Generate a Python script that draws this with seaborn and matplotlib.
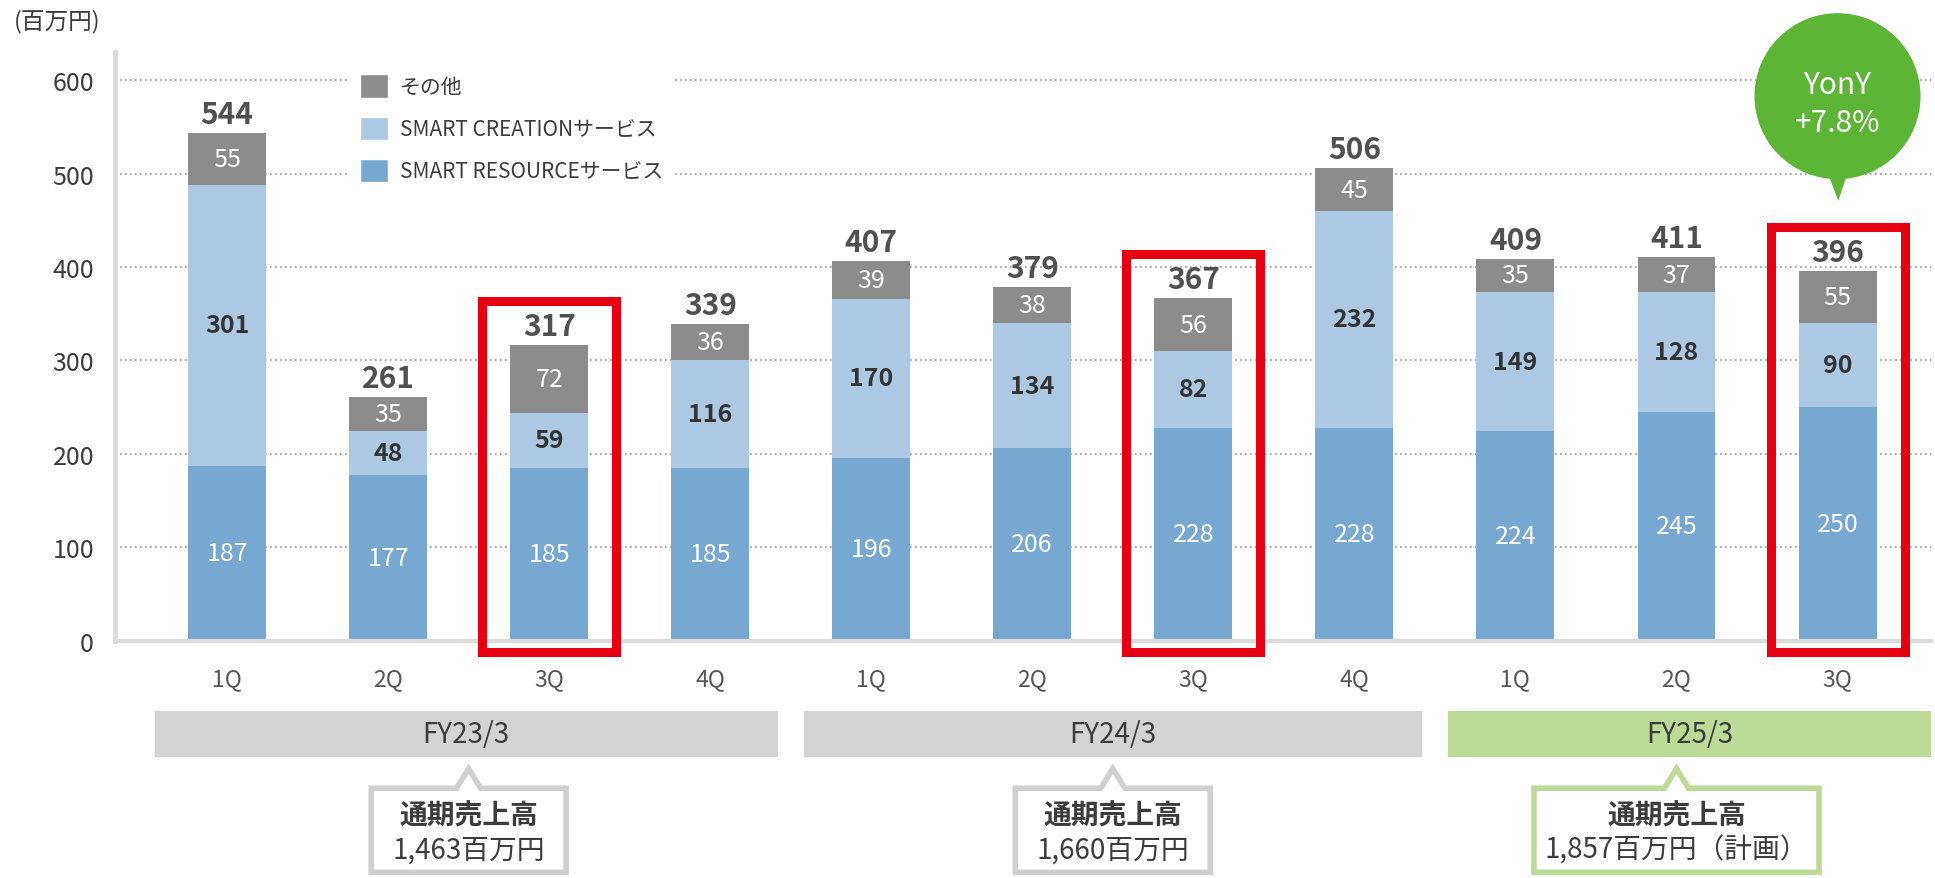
import numpy as np
import pandas as pd
import seaborn as sns
import matplotlib.pyplot as plt
from matplotlib.patches import Rectangle, Ellipse, Polygon, Patch

# data (百万円)
quarters = ['1Q', '2Q', '3Q', '4Q', '1Q', '2Q', '3Q', '4Q', '1Q', '2Q', '3Q']
fiscal_years = ['FY23/3'] * 4 + ['FY24/3'] * 4 + ['FY25/3'] * 3
resource = [187, 177, 185, 185, 196, 206, 228, 228, 224, 245, 250]
creation = [301, 48, 59, 116, 170, 134, 82, 232, 149, 128, 90]
other = [55, 35, 72, 36, 39, 38, 56, 45, 35, 37, 55]
totals = [544, 261, 317, 339, 407, 379, 367, 506, 409, 411, 396]
highlight = [2, 6, 10]
fy_names = ['FY23/3', 'FY24/3', 'FY25/3']
fy_sales = ['1,463百万円', '1,660百万円', '1,857百万円（計画）']
yony_text = '+7.8%'

c_other = '#8c8c8c'
c_creation = '#adc8e3'
c_resource = '#76a8d1'
c_text = '#3c3c3c'

df = pd.DataFrame({
    'key': [f'{fy} {q}' for fy, q in zip(fiscal_years, quarters)],
    'resource': resource,
    'creation': creation,
    'other': other,
    'total': totals,
})
df['res_cre'] = df['resource'] + df['creation']

sns.set_style('white')
plt.rcParams['font.family'] = ['Noto Sans CJK JP', 'DejaVu Sans']

fig = plt.figure(figsize=(19.35, 8.79), dpi=100)
ax = fig.add_axes([0.0594, 0.27, 0.9385, 0.6694])

bw = 0.484
for col, colr in [('total', c_other), ('res_cre', c_creation), ('resource', c_resource)]:
    sns.barplot(data=df, x='key', y=col, color=colr, width=bw, saturation=1, errorbar=None,
                linewidth=0, edgecolor='none', ax=ax, zorder=2)

ax.set_xlim(-0.696, 10.58)
ax.set_ylim(0, 630)
ax.set_yticks(range(0, 601, 100))
ax.set_xticks(range(len(quarters)))
ax.set_xticklabels(quarters, fontsize=16.5, color='#555555')
ax.tick_params(axis='y', length=0, pad=15, labelsize=18, labelcolor=c_text)
ax.tick_params(axis='x', length=0, pad=19)
ax.set_xlabel('')
ax.set_ylabel('')
ax.set_axisbelow(True)
ax.yaxis.grid(True, linestyle=(0, (1, 2)), color='#9a9a9a', linewidth=1.2)
for s in ['top', 'right']:
    ax.spines[s].set_visible(False)
ax.spines['left'].set_color('#dcdcdc')
ax.spines['left'].set_linewidth(3.5)
ax.spines['bottom'].set_color('#dcdcdc')
ax.spines['bottom'].set_linewidth(3)
ax.spines['bottom'].set_zorder(3)

# segment and total labels
for i in range(len(quarters)):
    ax.text(i, resource[i] / 2, str(resource[i]), ha='center', va='center', fontsize=18, color='white', zorder=5)
    ax.text(i, resource[i] + creation[i] / 2, str(creation[i]), ha='center', va='center', fontsize=18,
            color='#333333', fontweight='bold', zorder=5)
    rc = resource[i] + creation[i]
    ax.text(i, (rc + totals[i]) / 2, str(other[i]), ha='center', va='center', fontsize=18, color='white', zorder=5)
    ax.text(i, totals[i] + 4, str(totals[i]), ha='center', va='bottom', fontsize=21.5, color='#505050',
            fontweight='bold', zorder=5)

# red highlight boxes
for i in highlight:
    ax.add_patch(Rectangle((i - 0.416, -12.5), 0.832, totals[i] + 47 + 12.5, fill=False,
                           edgecolor='#e60012', linewidth=6.5, joinstyle='miter', clip_on=False, zorder=6))

# YonY bubble over the last quarter
last = len(quarters) - 1
ax.add_patch(Ellipse((last, 583), 1.031, 177.7, facecolor='#5db535', edgecolor='none', clip_on=False, zorder=7))
ax.add_patch(Polygon([(last - 0.07, 505), (last + 0.07, 505), (last + 0.005, 471)], closed=True,
                     facecolor='#5db535', edgecolor='none', clip_on=False, zorder=7))
ax.text(last, 596, 'YonY', ha='center', va='center', fontsize=21.5, color='white', zorder=8)
ax.text(last, 555, yony_text, ha='center', va='center', fontsize=21.5, color='white', zorder=8)

# legend
handles = [Patch(facecolor=c_other), Patch(facecolor=c_creation), Patch(facecolor=c_resource)]
labels = ['その他', 'SMART CREATIONサービス', 'SMART RESOURCEサービス']
leg = ax.legend(handles, labels, loc='upper left', bbox_to_anchor=(0.1294, 0.98), borderaxespad=0,
                fontsize=15, handlelength=1.33, handleheight=1.33, labelspacing=0.9, handletextpad=0.55,
                frameon=True, facecolor='white', edgecolor='none', framealpha=1, borderpad=0.5)
for t in leg.get_texts():
    t.set_color(c_text)

# fiscal-year bands and annual callouts
groups = {}
for i, fy in enumerate(fiscal_years):
    groups.setdefault(fy, []).append(i)
band_colors = ['#d3d3d3', '#d3d3d3', '#bcdb97']
edge_colors = ['#d0d0d0', '#d0d0d0', '#bcdb97']
half_widths = [0.605, 0.605, 0.885]
for k, fy in enumerate(fy_names):
    idx = groups[fy]
    left = idx[0] - 0.45 if k == 0 else idx[0] - 0.42
    right = 10.58 if k == len(fy_names) - 1 else idx[-1] + 0.42
    ax.add_patch(Rectangle((left, -124.5), right - left, 49.2, facecolor=band_colors[k], edgecolor='none',
                           clip_on=False, zorder=3))
    ax.text((left + right) / 2, -100, fy, ha='center', va='center', fontsize=20, color=c_text, zorder=4)

    c = float(np.mean(idx))
    hw = half_widths[k]
    top, bot, tip = -158, -248, -137
    ax.add_patch(Polygon([(c - hw, top), (c - 0.075, top), (c, tip), (c + 0.075, top), (c + hw, top),
                          (c + hw, bot), (c - hw, bot)], closed=True, facecolor='white',
                         edgecolor=edge_colors[k], linewidth=4, joinstyle='miter', clip_on=False, zorder=3))
    ax.text(c, -187.6, '通期売上高', ha='center', va='center', fontsize=20, fontweight='bold', color=c_text, zorder=4)
    ax.text(c, -223.9, fy_sales[k], ha='center', va='center', fontsize=20, color=c_text, zorder=4)

fig.text(57 / 1935, 1 - 22 / 879, '(百万円)', ha='center', va='center', fontsize=17, color=c_text)

fig.savefig('out.png', dpi=100)
